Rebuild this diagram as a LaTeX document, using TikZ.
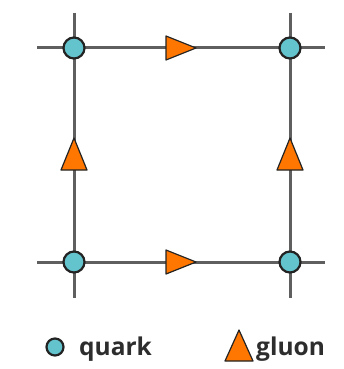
\documentclass[tikz,border=0pt]{standalone}
\usepackage{fontspec}
\setmainfont{Open Sans}
\definecolor{linegray}{RGB}{95,95,95}
\definecolor{quarkfill}{RGB}{100,196,206}
\definecolor{gluonfill}{RGB}{255,118,0}
\definecolor{edgedark}{RGB}{35,35,35}
\definecolor{textdark}{RGB}{45,45,45}
\begin{document}
\begin{tikzpicture}[x=1pt,y=-1pt,
  gridline/.style={draw=linegray,line width=3pt},
  quark/.style={circle,draw=edgedark,fill=quarkfill,line width=2.2pt,minimum size=21pt,inner sep=0pt},
  legquark/.style={circle,draw=edgedark,fill=quarkfill,line width=2.2pt,minimum size=17pt,inner sep=0pt},
  gluon/.style={draw=edgedark,fill=gluonfill,line width=1.2pt,line join=round},
  legtext/.style={text=textdark,font=\fontsize{24.5}{29}\selectfont\bfseries,inner sep=0pt,anchor=base west}]
\useasboundingbox (0,0) rectangle (344,369);
% line ends
\coordinate (tl0) at (37,48); \coordinate (tr0) at (325,48);
\coordinate (bl0) at (37,262); \coordinate (br0) at (325,262);
\coordinate (lt0) at (74,13); \coordinate (lb0) at (74,298);
\coordinate (rt0) at (290,13); \coordinate (rb0) at (290,298);
% vertices
\coordinate (qtl) at (74,48); \coordinate (qtr) at (290,48);
\coordinate (qbl) at (74,262); \coordinate (qbr) at (290,262);
\draw[gridline] (tl0) -- (qtl) -- (qtr) -- (tr0);
\draw[gridline] (bl0) -- (qbl) -- (qbr) -- (br0);
\draw[gridline] (lt0) -- (qtl) -- (qbl) -- (lb0);
\draw[gridline] (rt0) -- (qtr) -- (qbr) -- (rb0);
\node[quark] (vtl) at (qtl) {};
\node[quark] (vtr) at (qtr) {};
\node[quark] (vbl) at (qbl) {};
\node[quark] (vbr) at (qbr) {};
% gluons (links)
\draw[gluon] (166,36) -- (196,48) -- (166,60) -- cycle;
\draw[gluon] (166,250) -- (196,262) -- (166,274) -- cycle;
\draw[gluon] (61,170) -- (74,138) -- (87,170) -- cycle;
\draw[gluon] (277,170) -- (290,138) -- (303,170) -- cycle;
% legend
\node[legquark] (lq) at (55,347) {};
\node[legtext] (lqt) at (79,355) {quark};
\draw[gluon] (225,361) -- (239,330) -- (253,361) -- cycle;
\node[legtext] (lgt) at (256,355) {gluon};
\end{tikzpicture}
\end{document}
